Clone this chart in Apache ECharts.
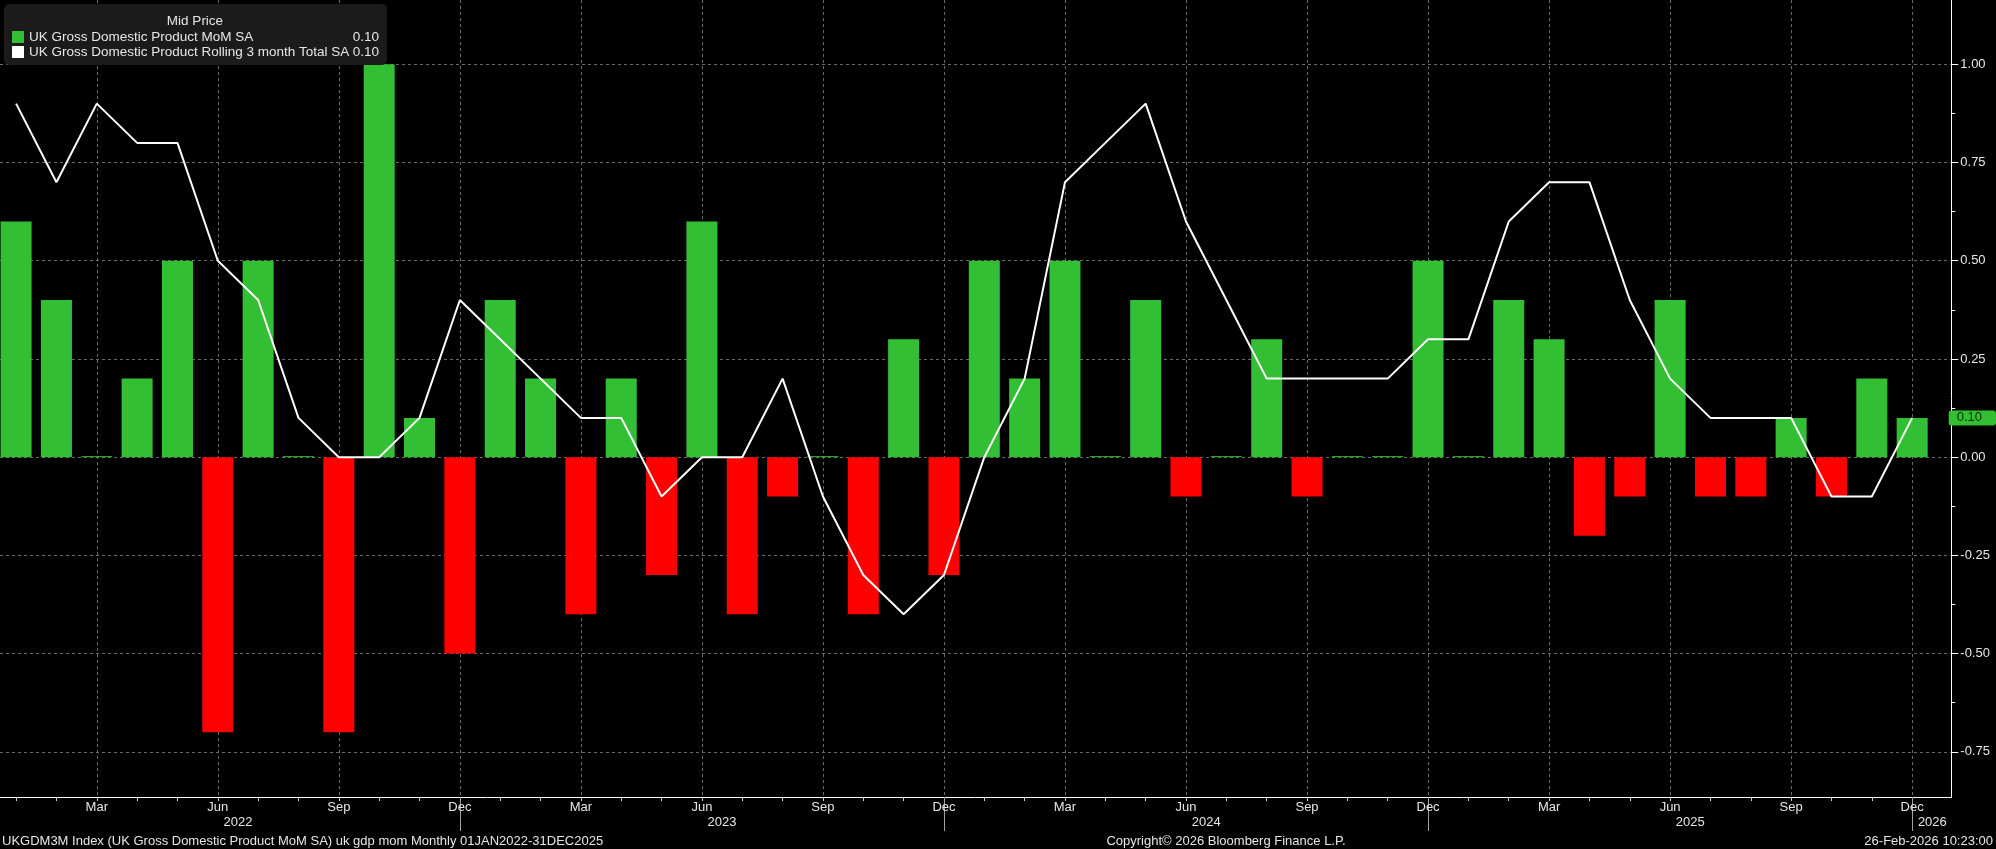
<!DOCTYPE html>
<html>
<head>
<meta charset="utf-8">
<script src="https://cdn.jsdelivr.net/npm/echarts@6/dist/echarts.min.js"></script>
<style>
  html, body { margin: 0; padding: 0; background: #000; }
  #chart { width: 1996px; height: 849px; }
</style>
</head>
<body>
<div id="chart"></div>
<script>
// monthly data, Jan 2022 - Dec 2025
var categories = [
  'Jan 2022','Feb 2022','Mar 2022','Apr 2022','May 2022','Jun 2022','Jul 2022','Aug 2022','Sep 2022','Oct 2022','Nov 2022','Dec 2022',
  'Jan 2023','Feb 2023','Mar 2023','Apr 2023','May 2023','Jun 2023','Jul 2023','Aug 2023','Sep 2023','Oct 2023','Nov 2023','Dec 2023',
  'Jan 2024','Feb 2024','Mar 2024','Apr 2024','May 2024','Jun 2024','Jul 2024','Aug 2024','Sep 2024','Oct 2024','Nov 2024','Dec 2024',
  'Jan 2025','Feb 2025','Mar 2025','Apr 2025','May 2025','Jun 2025','Jul 2025','Aug 2025','Sep 2025','Oct 2025','Nov 2025','Dec 2025'
];
var momValues = [
  0.6, 0.4, 0.0, 0.2, 0.5, -0.7, 0.5, 0.0, -0.7, 1.0, 0.1, -0.5,
  0.4, 0.2, -0.4, 0.2, -0.3, 0.6, -0.4, -0.1, 0.0, -0.4, 0.3, -0.3,
  0.5, 0.2, 0.5, 0.0, 0.4, -0.1, 0.0, 0.3, -0.1, 0.0, 0.0, 0.5,
  0.0, 0.4, 0.3, -0.2, -0.1, 0.4, -0.1, -0.1, 0.1, -0.1, 0.2, 0.1
];
var rolling3m = [
  0.9, 0.7, 0.9, 0.8, 0.8, 0.5, 0.4, 0.1, 0.0, 0.0, 0.1, 0.4,
  0.3, 0.2, 0.1, 0.1, -0.1, 0.0, 0.0, 0.2, -0.1, -0.3, -0.4, -0.3,
  0.0, 0.2, 0.7, 0.8, 0.9, 0.6, 0.4, 0.2, 0.2, 0.2, 0.2, 0.3,
  0.3, 0.6, 0.7, 0.7, 0.4, 0.2, 0.1, 0.1, 0.1, -0.1, -0.1, 0.1
];
var seriesNames = ['UK Gross Domestic Product MoM SA', 'UK Gross Domestic Product Rolling 3 month Total SA'];

// tick labels
var monthTicks = [0,1,2,3,4,5,6,7,8,9,10,11,12,13,14,15,16,17,18,19,20,21,22,23,24,25,26,27,28,29,30,31,32,33,34,35,36,37,38,39,40,41,42,43,44,45,46,47];
var quarterTicks = [2,5,8,11,14,17,20,23,26,29,32,35,38,41,44,47];
var yearSeps = [11,23,35,47];
var yearLabelPos = [5.5,17.5,29.5,41.5,47.5];
var yearLabels = ['2022','2023','2024','2025','2026'];
var yTicks = [-0.75,-0.5,-0.25,0,0.25,0.5,0.75,1.0];
var yMinorTicks = [-0.625,-0.375,-0.125,0.125,0.375,0.625,0.875];

var GREEN = '#33bf33', RED = '#ff0000', TXT = '#e6e6e6', GRIDC = '#6a6a6a';
var FONT = '"Liberation Sans", Arial, sans-serif';
var xMin = -0.399, xMax = 47.97, yMin = -0.865, yMax = 1.1637;

var barData = [], lineData = [];
for (var i = 0; i < categories.length; i++) {
  barData.push([i, momValues[i]]);
  lineData.push([i, rolling3m[i]]);
}
var lastVals = [momValues[momValues.length - 1], rolling3m[rolling3m.length - 1]];

var myChart = echarts.init(document.getElementById('chart'));

var option = {
  backgroundColor: '#000000',
  animation: false,
  textStyle: { fontFamily: FONT },
  grid: { left: 0, right: 44.7, top: 0, bottom: 52, containLabel: false, outerBoundsMode: 'none' },
  legend: {
    left: 4, top: 4, orient: 'vertical',
    padding: [26, 8, 6, 8],
    backgroundColor: '#1b1b1b', borderRadius: 5,
    itemWidth: 12, itemHeight: 12, itemGap: 1,
    icon: 'rect', selectedMode: false,
    data: [
      { name: seriesNames[0], itemStyle: { color: GREEN } },
      { name: seriesNames[1], itemStyle: { color: '#ffffff' } }
    ],
    formatter: function (name) {
      var v = lastVals[seriesNames.indexOf(name)];
      return '{n|' + name + '}{v|' + v.toFixed(2) + '}';
    },
    textStyle: {
      color: TXT, fontSize: 13.5, fontFamily: FONT,
      rich: {
        n: { width: 318, color: TXT, fontSize: 13.5, fontFamily: FONT },
        v: { width: 32, align: 'right', color: TXT, fontSize: 13.5, fontFamily: FONT }
      }
    }
  },
  graphic: [
    { type: 'text', x: 195, y: 21, z: 100, style: { text: 'Mid Price', align: 'center', verticalAlign: 'middle', fill: TXT, font: '13.5px ' + FONT } },
    { type: 'text', x: 2, y: 841, z: 100, style: { text: 'UKGDM3M Index (UK Gross Domestic Product MoM SA) uk gdp mom Monthly 01JAN2022-31DEC2025', align: 'left', verticalAlign: 'middle', fill: TXT, font: '13px ' + FONT } },
    { type: 'text', x: 1226, y: 841, z: 100, style: { text: 'Copyright\u00a9 2026 Bloomberg Finance L.P.', align: 'center', verticalAlign: 'middle', fill: TXT, font: '13px ' + FONT } },
    { type: 'text', x: 1993, y: 841, z: 100, style: { text: '26-Feb-2026 10:23:00', align: 'right', verticalAlign: 'middle', fill: TXT, font: '13px ' + FONT } }
  ],
  xAxis: [
    {
      type: 'value', position: 'bottom', min: xMin, max: xMax,
      axisLine: { show: true, onZero: false, lineStyle: { color: '#ffffff', width: 1 } },
      axisTick: { show: true, length: 4, customValues: monthTicks, lineStyle: { color: '#cccccc' } },
      axisLabel: {
        customValues: quarterTicks, color: TXT, fontSize: 13, margin: 4,
        formatter: function (v) { return categories[Math.round(v)].split(' ')[0]; }
      },
      splitLine: { show: false }
    },
    {
      type: 'value', position: 'bottom', min: xMin, max: xMax,
      axisLine: { show: false, onZero: false },
      axisTick: { show: true, length: 34, customValues: yearSeps, lineStyle: { color: '#a0a0a0' } },
      axisLabel: {
        customValues: yearLabelPos, color: TXT, fontSize: 13, margin: 19,
        formatter: function (v) { return yearLabels[yearLabelPos.indexOf(v)]; }
      },
      splitLine: { show: false }
    },
    {
      type: 'value', position: 'bottom', min: xMin, max: xMax,
      axisLine: { show: false, onZero: false },
      axisTick: { show: false, customValues: quarterTicks },
      axisLabel: { show: false, customValues: quarterTicks },
      splitLine: { show: true, lineStyle: { color: GRIDC, type: [3, 3], width: 1 } }
    }
  ],
  yAxis: [
    {
      type: 'value', position: 'right', min: yMin, max: yMax,
      axisLine: { show: true, onZero: false, lineStyle: { color: '#ffffff', width: 1 } },
      axisTick: { show: true, length: 7, customValues: yTicks, lineStyle: { color: '#ffffff', width: 1 } },
      axisLabel: {
        customValues: yTicks, color: TXT, fontSize: 13, margin: 9,
        formatter: function (v) { return v.toFixed(2); }
      },
      splitLine: { show: true, lineStyle: { color: GRIDC, type: [3, 3], width: 1 } },
      axisPointer: {
        show: true, type: 'line', value: lastVals[1], status: 'show', snap: false, triggerTooltip: false,
        lineStyle: { opacity: 0 },
        label: {
          show: true, backgroundColor: GREEN, color: '#0d2e0d', fontSize: 13, fontFamily: FONT,
          padding: [1, 14, 1, 8], margin: 3,
          formatter: function (p) { return Number(p.value).toFixed(2); }
        }
      }
    },
    {
      type: 'value', position: 'right', min: yMin, max: yMax,
      axisLine: { show: false, onZero: false },
      axisTick: { show: true, length: 4, customValues: yMinorTicks, lineStyle: { color: '#ffffff' } },
      axisLabel: { show: false, customValues: yMinorTicks },
      splitLine: { show: false }
    }
  ],
  series: [
    {
      name: seriesNames[0], type: 'bar', xAxisIndex: 0, yAxisIndex: 0,
      barWidth: 31, barMinHeight: 1, clip: false,
      data: barData,
      itemStyle: {
        color: function (p) { return p.value[1] < 0 ? RED : GREEN; }
      }
    },
    {
      name: seriesNames[1], type: 'line', xAxisIndex: 0, yAxisIndex: 0,
      data: lineData, symbol: 'none', z: 5,
      lineStyle: { color: '#ffffff', width: 2 },
      itemStyle: { color: '#ffffff' }
    }
  ]
};

myChart.setOption(option);
</script>
</body>
</html>
